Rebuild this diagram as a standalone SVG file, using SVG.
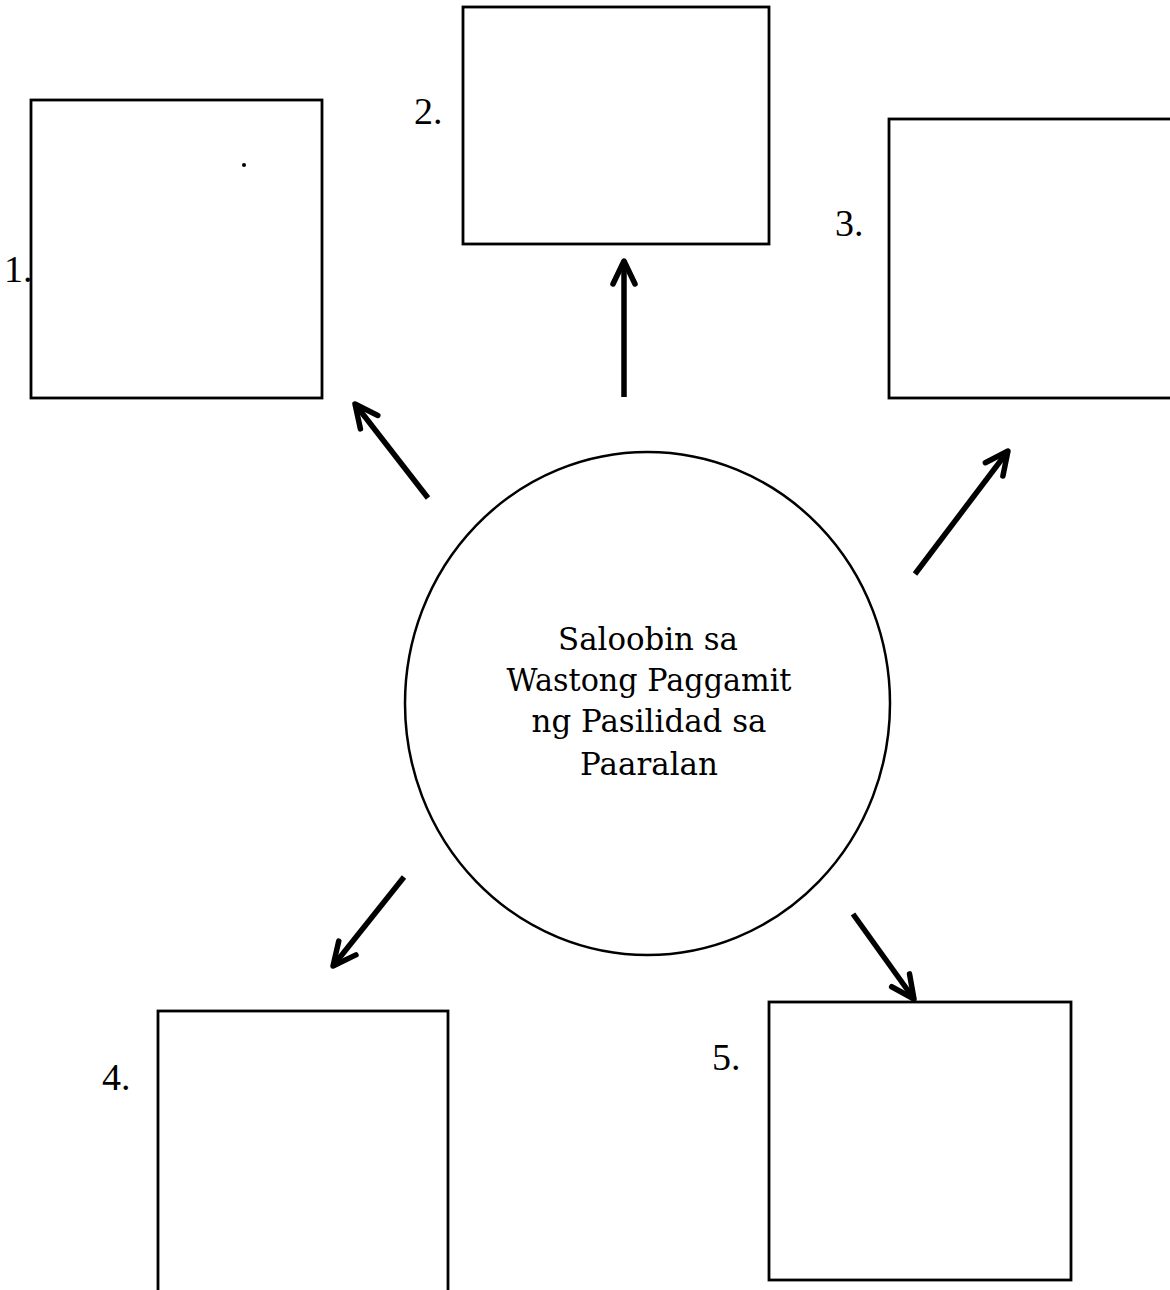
<svg xmlns="http://www.w3.org/2000/svg" width="1170" height="1290" viewBox="0 0 1170 1290">
<style>
.box{fill:#fff;stroke:#000;stroke-width:2.8}
.num{font-family:"Liberation Serif","Times New Roman",serif;font-size:38px;fill:#000}
.ctr{font-family:"DejaVu Serif","Liberation Serif",serif;font-size:32px;fill:#000;text-anchor:middle}
.arr{stroke:#000;stroke-width:5.5;fill:none;marker-end:url(#head)}
</style>
<defs>
<marker id="head" markerUnits="userSpaceOnUse" viewBox="-30 -20 40 40" markerWidth="40" markerHeight="40" refX="0" refY="0" orient="auto" overflow="visible">
<path d="M-23,-11 L0,0 L-23,11" fill="none" stroke="#000" stroke-width="5.5" stroke-linecap="round" stroke-linejoin="round"/>
</marker>
</defs>
<rect width="1170" height="1290" fill="#fff"/>
<g id="node-1">
<rect class="box" x="31" y="100" width="291" height="298"/>
<circle cx="244" cy="165" r="2" fill="#000"/>
<text class="num" x="4" y="282">1.</text>
</g>
<g id="node-2">
<rect class="box" x="463" y="7" width="306" height="237"/>
<text class="num" x="414" y="124">2.</text>
</g>
<g id="node-3">
<rect class="box" x="889" y="119" width="300" height="279"/>
<text class="num" x="835" y="236">3.</text>
</g>
<g id="node-4">
<rect class="box" x="158" y="1011" width="290" height="300"/>
<text class="num" x="102" y="1090">4.</text>
</g>
<g id="node-5">
<rect class="box" x="769" y="1002" width="302" height="278"/>
<text class="num" x="712" y="1070">5.</text>
</g>
<g id="center">
<ellipse cx="647.5" cy="703.5" rx="242.5" ry="251.5" fill="#fff" stroke="#000" stroke-width="2.5"/>
<text class="ctr" x="648" y="650" textLength="180" lengthAdjust="spacingAndGlyphs">Saloobin sa</text>
<text class="ctr" x="649" y="691" textLength="285" lengthAdjust="spacingAndGlyphs">Wastong Paggamit</text>
<text class="ctr" x="649" y="732" textLength="235" lengthAdjust="spacingAndGlyphs">ng Pasilidad sa</text>
<text class="ctr" x="649" y="775" textLength="138" lengthAdjust="spacingAndGlyphs">Paaralan</text>
</g>
<g id="connectors">
<line class="arr" x1="624" y1="397" x2="624" y2="261"/>
<line class="arr" x1="428" y1="498" x2="355" y2="404"/>
<line class="arr" x1="915" y1="574" x2="1008" y2="451"/>
<line class="arr" x1="404" y1="877" x2="333" y2="966"/>
<line class="arr" x1="853" y1="914" x2="914" y2="999"/>
</g>
</svg>
